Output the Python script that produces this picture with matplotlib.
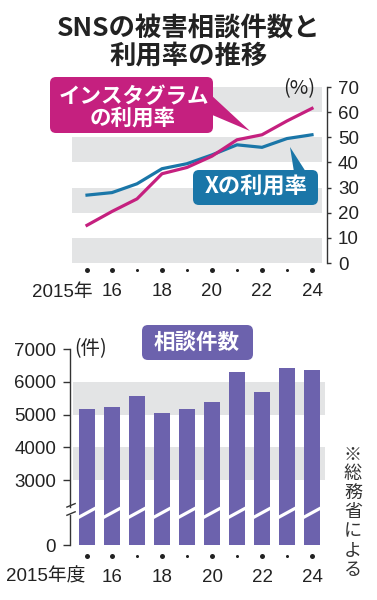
import matplotlib
matplotlib.use('Agg')
import matplotlib.pyplot as plt
import numpy as np
from matplotlib.patches import FancyBboxPatch, Polygon
from matplotlib.transforms import Affine2D, blended_transform_factory

plt.rcParams['font.family'] = ['Noto Sans CJK JP', 'DejaVu Sans']

# 利用率 (%)
years = [2015, 2016, 2017, 2018, 2019, 2020, 2021, 2022, 2023, 2024]
insta_rate = [15.0, 20.5, 25.5, 35.5, 38.0, 42.5, 49.0, 51.0, 56.5, 61.5]
x_rate = [27.0, 28.0, 31.5, 37.5, 39.5, 43.0, 47.0, 46.0, 49.5, 51.0]
# 相談件数
counts = [5180, 5230, 5580, 5050, 5180, 5390, 6300, 5700, 6420, 6360]

label_years = [2015, 2016, 2018, 2020, 2022, 2024]
top_labels = ['2015年', '16', '18', '20', '22', '24']
bot_labels = ['2015年度', '16', '18', '20', '22', '24']
top_ticks = [0, 10, 20, 30, 40, 50, 60, 70]
bot_ticks = [0, 3000, 4000, 5000, 6000, 7000]

MAGENTA = '#c5207f'
BLUE = '#1a76a8'
PURPLE = '#6c62ad'
GRAY = '#e3e4e5'
INK = '#222222'
NUM = ['Liberation Sans', 'Noto Sans CJK JP']
NUMSIZE = 13.5

W, H = 377, 600
fig = plt.figure(figsize=(W / 100, H / 100), dpi=100)
pxT = Affine2D().scale(1 / W, -1 / H).translate(0, 1) + fig.transFigure


def pxbox(x0, y0, x1, y1):
    return [x0 / W, 1 - y1 / H, (x1 - x0) / W, (y1 - y0) / H]


# タイトル
fig.text(189, 29, 'SNSの被害相談件数と', transform=pxT, ha='center', va='center',
         fontsize=19, fontweight='bold', color=INK)
fig.text(189, 56, '利用率の推移', transform=pxT, ha='center', va='center',
         fontsize=19, fontweight='bold', color=INK)

# ---- 上段：利用率 ----
ax1 = fig.add_axes(pxbox(72, 87, 327, 263))
ax1.set_xlim(2014.4, 2024.6)
ax1.set_ylim(0, 70)
for lo in (0, 20, 40, 60):
    ax1.axhspan(lo, lo + 10, xmin=0, xmax=250 / 255, color=GRAY, lw=0, zorder=0)
ax1.plot(years, x_rate, color=BLUE, lw=2.3, solid_joinstyle='round', zorder=2)
ax1.plot(years, insta_rate, color=MAGENTA, lw=2.3, solid_joinstyle='round', zorder=3)
for s in ('left', 'top', 'bottom'):
    ax1.spines[s].set_visible(False)
ax1.spines['right'].set_color('#333333')
ax1.spines['right'].set_linewidth(1.0)
ax1.yaxis.tick_right()
ax1.set_yticks(top_ticks)
ax1.set_yticklabels([str(t) for t in top_ticks], family=NUM, fontsize=NUMSIZE, color=INK)
ax1.tick_params(axis='y', direction='out', length=3, width=1.0, pad=5, color='#333333')
ax1.set_xticks([])
tr1 = blended_transform_factory(ax1.transData, ax1.transAxes)
for yr in years:
    big = yr in label_years
    ax1.plot([yr], [-7 / 176], 'o', ms=3.6 if big else 2.2, color=INK, mec='none',
             transform=tr1, clip_on=False)
for yr, lab in zip(label_years, top_labels):
    if yr == 2015:
        ax1.text(yr + 0.22, -29 / 176, lab, transform=tr1, ha='right', va='center',
                 family=NUM, fontsize=NUMSIZE, color=INK)
    else:
        ax1.text(yr, -29 / 176, lab, transform=tr1, ha='center', va='center',
                 family=NUM, fontsize=NUMSIZE, color=INK)
fig.text(299, 89, '(%)', transform=pxT, ha='center', va='center', fontsize=14.5, color=INK)

# ラベル（インスタグラム）
fig.patches.append(Polygon([(210, 94), (210, 114), (250, 131)], closed=True,
                           transform=pxT, fc=MAGENTA, ec='none', figure=fig))
fig.patches.append(FancyBboxPatch((50, 77), 163, 56,
                                  boxstyle='round,pad=0,rounding_size=6',
                                  transform=pxT, fc=MAGENTA, ec='none', figure=fig))
fig.text(134, 97, 'インスタグラム', transform=pxT, ha='center', va='center',
         fontsize=15.5, fontweight='bold', color='white')
fig.text(133, 118, 'の利用率', transform=pxT, ha='center', va='center',
         fontsize=15.5, fontweight='bold', color='white')

# ラベル（X）
fig.patches.append(Polygon([(290, 147), (294, 172), (306, 172)], closed=True,
                           transform=pxT, fc=BLUE, ec='none', figure=fig))
fig.patches.append(FancyBboxPatch((193, 170), 125, 35,
                                  boxstyle='round,pad=0,rounding_size=6',
                                  transform=pxT, fc=BLUE, ec='none', figure=fig))
fig.text(256, 187, 'Xの利用率', transform=pxT, ha='center', va='center',
         fontsize=16, fontweight='bold', color='white')

# ---- 下段：相談件数（0〜3000は省略）----
K = 65 / 33


def fwd(v):
    v = np.asarray(v, dtype=float)
    return np.where(v >= 3000, v / 1000, 3 - K * (1 - v / 3000))


def inv(y):
    y = np.asarray(y, dtype=float)
    return np.where(y >= 3, y * 1000, 3000 * (1 - (3 - y) / K))


ax2 = fig.add_axes(pxbox(70, 349, 327, 545))
ax2.set_yscale('function', functions=(fwd, inv))
ax2.set_xlim(2014.32, 2024.6)
ax2.set_ylim(0, 7000)
for lo in (3000, 5000):
    ax2.axhspan(lo, lo + 1000, xmin=3 / 257, xmax=255 / 257, color=GRAY, lw=0, zorder=0)
ax2.bar(years, counts, width=0.64, color=PURPLE, zorder=2)
for yr in years:
    ax2.plot([yr - 0.42, yr + 0.42], [1230, 1760], color='white', lw=2.3,
             solid_capstyle='butt', zorder=3)
for s in ('left', 'top', 'right', 'bottom'):
    ax2.spines[s].set_visible(False)
ax2.set_yticks(bot_ticks)
ax2.set_yticklabels([str(t) for t in bot_ticks], family=NUM, fontsize=NUMSIZE, color=INK)
ax2.yaxis.set_minor_locator(matplotlib.ticker.NullLocator())
ax2.tick_params(axis='y', direction='out', length=5, width=1.0, pad=5, color='#333333')
ax2.set_xticks([])
tr2s = blended_transform_factory(ax2.transAxes, ax2.transData)
ax2.plot([0, 0], [7000, 1760], color='#333333', lw=1.0, transform=tr2s, clip_on=False)
ax2.plot([0, 0], [1380, 0], color='#333333', lw=1.0, transform=tr2s, clip_on=False)
for v in (1500, 1880):
    ax2.plot([-0.012, 0.02], [v - 120, v + 40], color='#333333', lw=1.0,
             transform=tr2s, clip_on=False)
tr2 = blended_transform_factory(ax2.transData, ax2.transAxes)
for yr in years:
    big = yr in label_years
    ax2.plot([yr], [-11 / 196], 'o', ms=3.6 if big else 2.2, color=INK, mec='none',
             transform=tr2, clip_on=False)
for yr, lab in zip(label_years, bot_labels):
    if yr == 2015:
        ax2.text(yr - 0.08, -32 / 196, lab, transform=tr2, ha='right', va='center',
                 family=NUM, fontsize=NUMSIZE, color=INK)
    else:
        ax2.text(yr, -32 / 196, lab, transform=tr2, ha='center', va='center',
                 family=NUM, fontsize=NUMSIZE, color=INK)
fig.text(91, 349, '(件)', transform=pxT, ha='center', va='center', fontsize=14, color=INK)

fig.patches.append(FancyBboxPatch((142, 325), 111, 35,
                                  boxstyle='round,pad=0,rounding_size=6',
                                  transform=pxT, fc=PURPLE, ec='none', figure=fig))
fig.text(197, 342, '相談件数', transform=pxT, ha='center', va='center',
         fontsize=15.5, fontweight='bold', color='white')

fig.text(353, 446, '\n'.join('※総務省による'), transform=pxT, ha='center', va='top',
         fontsize=13, color='#333333', linespacing=1.08)

fig.savefig('out.png', dpi=100)
